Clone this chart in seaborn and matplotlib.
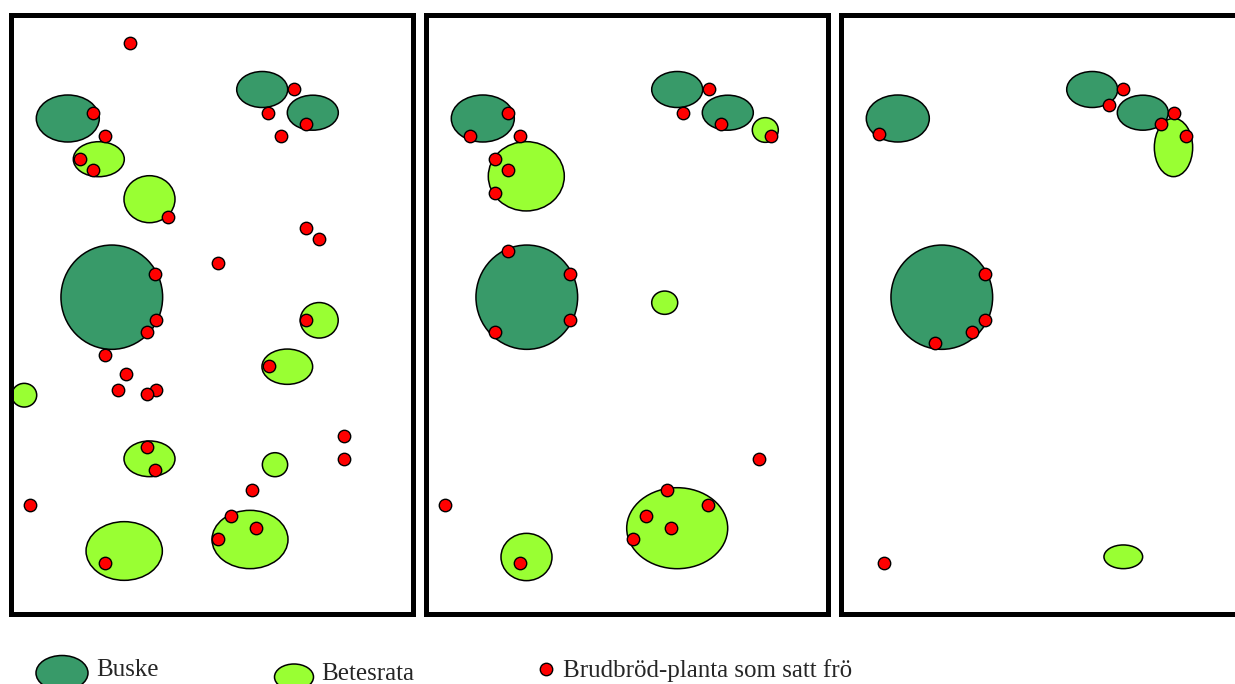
"""
Brudbröd seed-setting map: three panels with shrubs, grazing paths and plants.
"""

import pandas as pd
import matplotlib
matplotlib.use("Agg")
import matplotlib.pyplot as plt
from matplotlib.patches import Ellipse
import seaborn as sns


# Shrubs (Buske) - same in all panels: centre x, centre y, width, height (panel pixels)
buske_x = [67.8, 262.2, 312.8, 111.8]
buske_y = [118.5, 89.5, 112.7, 297.2]
buske_w = [63.0, 51.0, 51.0, 101.7]
buske_h = [47.0, 36.0, 35.0, 104.3]

# Grazing paths (Betesrata) per panel
rata_panel = [1, 1, 1, 1, 1, 1, 1, 1, 1, 2, 2, 2, 2, 2, 3, 3]
rata_x = [98.8, 149.5, 319.2, 287.3, 24.2, 149.5, 275.0, 124.2, 250.0,
          111.3, 350.3, 249.7, 111.5, 262.2,
          343.5, 293.3]
rata_y = [159.2, 199.2, 320.3, 366.7, 395.2, 458.8, 464.7, 551.0, 539.5,
          176.3, 130.0, 302.7, 557.0, 528.2,
          147.5, 556.8]
rata_w = [51.0, 51.0, 38.0, 50.7, 25.0, 51.0, 25.3, 76.3, 76.0,
          76.0, 26.0, 26.0, 51.0, 101.0,
          38.3, 38.7]
rata_h = [35.0, 47.0, 35.5, 35.3, 23.7, 35.7, 24.0, 58.7, 58.3,
          69.3, 24.7, 23.3, 47.3, 81.0,
          58.3, 23.7]

# Brudbröd plants that set seed, per panel
p1_x = [130.3, 92.7, 105.3, 80.0, 93.0, 168.3, 293.7, 268.3, 306.3, 281.0, 306.3,
        319.0, 218.3, 155.3, 306.3, 155.7, 147.0, 105.3, 126.0, 118.0, 155.7, 147.0,
        268.7, 147.0, 155.3, 344.0, 344.0, 252.0, 29.7, 105.3, 230.7, 256.0, 218.3]
p1_y = [43.3, 112.7, 135.7, 159.0, 170.3, 216.7, 89.3, 112.7, 124.0, 135.7, 228.0,
        239.3, 262.7, 274.0, 320.3, 320.3, 332.0, 354.7, 374.0, 389.7, 389.7, 393.7,
        366.3, 447.0, 470.3, 435.7, 458.7, 489.7, 505.0, 562.7, 516.3, 528.0, 539.3]
p2_x = [92.7, 54.7, 105.3, 80.0, 92.7, 80.0, 293.7, 268.3, 306.3, 356.3, 92.7,
        155.3, 155.3, 80.0, 343.7, 29.7, 105.3, 251.7, 293.3, 230.7, 256.0, 218.3]
p2_y = [112.7, 135.7, 135.7, 159.0, 170.3, 193.3, 89.3, 112.7, 124.0, 135.7, 250.7,
        274.0, 320.3, 332.0, 458.7, 505.0, 562.7, 489.7, 505.0, 516.3, 528.0, 539.3]
p3_x = [49.0, 293.3, 279.3, 343.7, 331.0, 356.0, 155.0, 155.0, 142.3, 105.0, 54.3]
p3_y = [133.7, 89.3, 104.7, 112.7, 124.0, 135.7, 274.0, 320.3, 332.0, 343.3, 562.7]

legend_labels = ["Buske", "Betesrata", "Brudbröd-planta som satt frö"]

BUSKE_COLOR = "#389a69"
RATA_COLOR = "#99ff33"
SEED_COLOR = "#ff0000"

W, H = 1235, 684


def add_ellipses(ax, xs, ys, ws, hs, color):
    """Add outlined ellipses in data coordinates."""
    for x, y, w, h in zip(xs, ys, ws, hs):
        ax.add_patch(Ellipse((x, y), w, h, facecolor=color,
                             edgecolor="black", linewidth=1.1, zorder=2))


def draw_panel(fig, idx, seeds):
    """Draw one map panel."""
    left = 11 + 415 * idx
    ax = fig.add_axes([left / W, 1 - 614 / H, 402 / W, 599 / H])

    add_ellipses(ax, buske_x, buske_y, buske_w, buske_h, BUSKE_COLOR)
    rata = pd.DataFrame({"panel": rata_panel, "x": rata_x, "y": rata_y,
                         "w": rata_w, "h": rata_h})
    rata = rata[rata["panel"] == idx + 1]
    add_ellipses(ax, rata["x"], rata["y"], rata["w"], rata["h"], RATA_COLOR)

    sns.scatterplot(data=seeds, x="x", y="y", ax=ax, color=SEED_COLOR,
                    edgecolor="black", linewidth=1.0, s=80, zorder=3,
                    legend=False)

    ax.set_xlim(11, 413)
    ax.set_ylim(614, 15)
    ax.set(xlabel="", ylabel="", xticks=[], yticks=[])
    for spine in ax.spines.values():
        spine.set_visible(True)
        spine.set_linewidth(3.6)
        spine.set_color("black")
    return ax


def draw_legend(fig):
    """Draw the legend row under the panels."""
    ax = fig.add_axes([0, 0, 1, 1], zorder=-1)
    ax.add_patch(Ellipse((62, 673), 52, 35, facecolor=BUSKE_COLOR,
                         edgecolor="black", linewidth=1.1))
    ax.add_patch(Ellipse((294, 677), 39, 26, facecolor=RATA_COLOR,
                         edgecolor="black", linewidth=1.1))
    sns.scatterplot(x=[545.8], y=[669.0], ax=ax, color=SEED_COLOR,
                    edgecolor="black", linewidth=1.0, s=80, legend=False)
    ax.set_xlim(0, W)
    ax.set_ylim(H, 0)
    ax.axis("off")
    font = dict(fontsize=18, va="baseline", ha="left")
    ax.text(96, 676.5, legend_labels[0], **font)
    ax.text(321, 680.5, legend_labels[1], **font)
    ax.text(563, 676.5, legend_labels[2], **font)


def main():
    sns.set_style("white")
    plt.rcParams["font.family"] = ["Liberation Serif", "DejaVu Serif"]

    fig = plt.figure(figsize=(W / 100, H / 100), dpi=100)
    draw_legend(fig)

    panels = [pd.DataFrame({"x": p1_x, "y": p1_y}),
              pd.DataFrame({"x": p2_x, "y": p2_y}),
              pd.DataFrame({"x": p3_x, "y": p3_y})]
    for i, seeds in enumerate(panels):
        draw_panel(fig, i, seeds)

    fig.savefig("out.png", dpi=100, facecolor="white")
    plt.close(fig)


if __name__ == "__main__":
    main()
